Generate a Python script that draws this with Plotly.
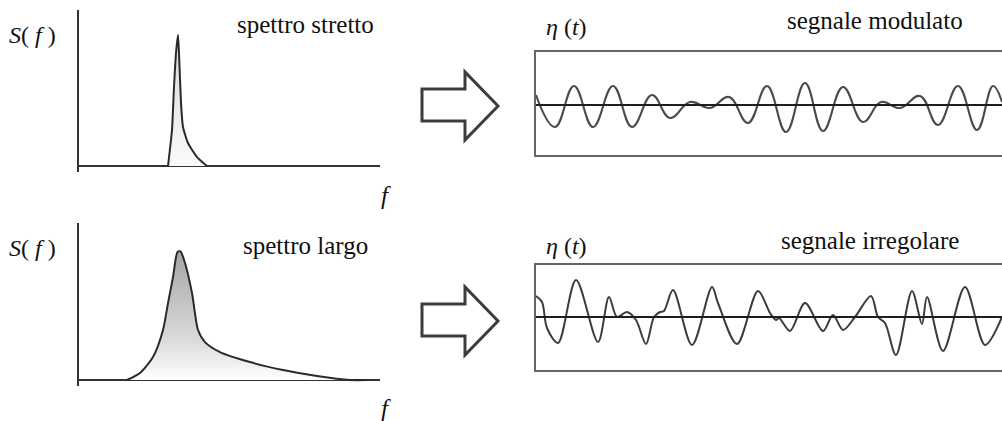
import plotly.graph_objects as go

W, H = 1002, 421

# ---- spectra S(f) ----
f_narrow = [0.89, 0.93, 0.95, 0.97, 0.99, 1.00, 1.02, 1.04, 1.09, 1.18, 1.28]
S_narrow = [0.0, 0.277, 0.608, 0.869, 1.008, 0.869, 0.485, 0.30, 0.177, 0.069, 0.0]

f_broad = [0.48, 0.61, 0.74, 0.84, 0.89, 0.94, 0.985, 1.015, 1.06, 1.13, 1.19, 1.26,
           1.41, 1.71, 2.04, 2.38, 2.71, 2.88]
S_broad = [0.0, 0.054, 0.177, 0.385, 0.592, 0.792, 0.985, 0.99, 0.90, 0.669, 0.385, 0.292,
           0.215, 0.138, 0.077, 0.031, 0.0, 0.0]

# ---- surface elevation eta(t) ----
t_mod = [0, 1.9, 3.8, 5.7, 7.7, 9.6, 11.6, 13.4, 15.4, 17.4, 19.3, 21.2, 23.1,
         25.0, 26.9, 28.7, 30.7, 32.7, 34.5, 36.4, 38.4, 40.2, 42.2, 44.1, 45.7, 46.6]
eta_mod = [0.5, -1.1, 0.95, -1.1, 0.95, -1.1, 0.5, -0.65, 0.15, -0.15, 0.4, -0.9, 0.95,
           -1.35, 1.1, -1.3, 0.9, -0.85, 0.15, -0.15, 0.45, -1.0, 0.95, -1.25, 0.95, 0.15]

t_irr = [0, 0.6, 1.1, 2.2, 4.0, 6.2, 7.3, 8.1, 9.1, 10.0, 11.0, 11.8, 12.4, 12.8, 13.7,
         15.6, 17.6, 18.2, 20.1, 22.2, 23.4, 24.0, 24.3, 25.4, 26.9, 28.7, 29.7, 30.7,
         31.9, 33.5, 34.2, 34.9, 36.0, 37.6, 38.6, 39.1, 40.7, 42.9, 44.9, 46.6]
eta_irr = [1.05, 0.75, -0.55, -1.3, 1.85, -1.25, 1.0, 0.0, 0.25, -0.15, -1.35, 0.0, 0.25,
           0.3, 1.35, -1.4, 1.5, 0.7, -1.35, 1.3, 0.2, -0.15, -0.05, -0.7, 0.7, -0.7, 0.1,
           -0.65, 0.0, 1.05, 0.0, -0.3, -1.9, 1.3, -0.35, 1.0, -1.7, 1.5, -1.4, 0.0]

panel_titles = ["spettro stretto", "spettro largo", "segnale modulato", "segnale irregolare"]

SERIF = "Times New Roman, Liberation Serif, DejaVu Serif, serif"
AX = "#333333"


def px_x(p):
    return p / W


def px_y(p):
    return 1 - p / H


fig = go.Figure()

# spectra
fig.add_trace(go.Scatter(
    x=f_narrow, y=S_narrow, xaxis="x", yaxis="y", mode="lines",
    line=dict(color="#2a2a2a", width=2, shape="spline", smoothing=0.5),
    fill="tozeroy",
    fillgradient=dict(type="vertical", colorscale=[[0, "#fafafa"], [1, "#d8d8d8"]]),
    hoverinfo="skip", showlegend=False))
fig.add_trace(go.Scatter(
    x=f_broad, y=S_broad, xaxis="x2", yaxis="y2", mode="lines",
    line=dict(color="#2a2a2a", width=2, shape="spline", smoothing=0.7),
    fill="tozeroy",
    fillgradient=dict(type="vertical", colorscale=[[0, "#ffffff"], [0.3, "#dcdcdc"], [1, "#a4a4a4"]]),
    hoverinfo="skip", showlegend=False))

# time series
fig.add_trace(go.Scatter(
    x=t_mod, y=eta_mod, xaxis="x3", yaxis="y3", mode="lines",
    line=dict(color="#4a4a4a", width=2.1, shape="spline", smoothing=1.2),
    hoverinfo="skip", showlegend=False))
fig.add_trace(go.Scatter(
    x=t_irr, y=eta_irr, xaxis="x4", yaxis="y4", mode="lines",
    line=dict(color="#3c3c3c", width=2, shape="spline", smoothing=0.9),
    hoverinfo="skip", showlegend=False))

# zero lines of the time series, drawn above the waves
for xa, ya in (("x3", "y3"), ("x4", "y4")):
    fig.add_shape(type="line", xref=f"{xa} domain", yref=ya, x0=0, x1=1, y0=0, y1=0,
                  line=dict(color="#1e1e1e", width=2))

spec_x = dict(domain=[px_x(79), px_x(380)], range=[0, 3.01], visible=True,
              showticklabels=False, ticks="", showgrid=False, zeroline=False,
              showline=False, fixedrange=True)
spec_y = dict(showticklabels=False, ticks="", showgrid=False, zeroline=True,
              zerolinecolor=AX, zerolinewidth=2.2, showline=True, linecolor=AX,
              linewidth=2.2, fixedrange=True)
sig_x = dict(domain=[px_x(536), 1.0], range=[0, 46.6], showticklabels=False, ticks="",
             showgrid=False, zeroline=False, showline=True, mirror=True,
             linecolor="#666666", linewidth=1.6, fixedrange=True)
sig_y = dict(showticklabels=False, ticks="", showgrid=False, zeroline=False,
             showline=True, linecolor="#666666", linewidth=1.6, fixedrange=True)

fig.update_layout(
    width=W, height=H, margin=dict(l=0, r=0, t=0, b=0),
    paper_bgcolor="white", plot_bgcolor="rgba(0,0,0,0)",
    font=dict(family=SERIF),
    xaxis=dict(spec_x, anchor="y"),
    yaxis=dict(spec_y, anchor="x", domain=[px_y(172), px_y(10)], range=[-0.046, 1.2]),
    xaxis2=dict(spec_x, anchor="y2"),
    yaxis2=dict(spec_y, anchor="x2", domain=[px_y(386), px_y(223)], range=[-0.046, 1.208]),
    xaxis3=dict(sig_x, anchor="y3"),
    yaxis3=dict(sig_y, anchor="x3", domain=[px_y(155), px_y(52)], range=[-2.5, 2.65]),
    xaxis4=dict(sig_x, anchor="y4"),
    yaxis4=dict(sig_y, anchor="x4", domain=[px_y(370), px_y(265)], range=[-2.65, 2.6]),
)

# hollow arrows between spectrum and signal
for dy in (0, 215):
    pts = [(422, 89), (465, 89), (465, 72), (498, 106), (465, 140), (465, 121), (422, 121)]
    path = "M " + " L ".join(f"{px_x(a):.5f},{px_y(b + dy):.5f}" for a, b in pts) + " Z"
    fig.add_shape(type="path", xref="paper", yref="paper", path=path,
                  line=dict(color="#3c3c3c", width=3), fillcolor="rgba(0,0,0,0)")


def label(text, x, y, size, xanchor="center"):
    fig.add_annotation(text=text, x=px_x(x), y=px_y(y), xref="paper", yref="paper",
                       xanchor=xanchor, yanchor="middle", showarrow=False,
                       font=dict(family=SERIF, size=size, color="#111111"))


for dy in (0, 213):
    label("<i>S</i>( <i>f</i> )", 7, 35 + dy, 24, xanchor="left")
    label("<i>f</i>", 386, 195 + dy, 25)

label("<i>η</i> (<i>t</i>)", 544, 27, 24, xanchor="left")
label("<i>η</i> (<i>t</i>)", 544, 246, 24, xanchor="left")

label(panel_titles[0], 305, 25, 25)
label(panel_titles[1], 305, 246, 25)
label(panel_titles[2], 875, 21, 25)
label(panel_titles[3], 870, 240, 25)

fig.write_html("out.html")
